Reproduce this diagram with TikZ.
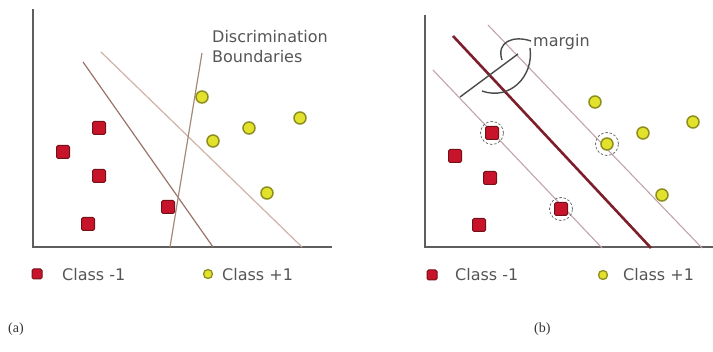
\documentclass[tikz,border=0pt]{standalone}
\usepackage{fontspec}
\newfontfamily\verd{DejaVu Sans}
\newfontfamily\tms{Liberation Serif}
\definecolor{axisgray}{HTML}{5E5E5E}
\definecolor{sqfill}{HTML}{C8142A}
\definecolor{sqdraw}{HTML}{741018}
\definecolor{cifill}{HTML}{E2E22C}
\definecolor{cidraw}{HTML}{8E8E20}
\definecolor{txtgray}{HTML}{555555}
\definecolor{lineone}{HTML}{9A7468}
\definecolor{linetwo}{HTML}{CFB2A8}
\definecolor{linethree}{HTML}{A48A78}
\definecolor{thinb}{HTML}{C2A4A8}
\definecolor{thickb}{HTML}{7D1E2A}
\definecolor{svgray}{HTML}{707070}
\definecolor{bargray}{HTML}{4A4A4A}
\begin{document}
\begin{tikzpicture}[x=1pt,y=-1pt,
  axis/.style={draw=axisgray,line width=1.6pt},
  sq/.style={rectangle,draw=sqdraw,fill=sqfill,line width=1pt,minimum size=13pt,inner sep=0pt,rounded corners=1.5pt},
  ci/.style={circle,draw=cidraw,fill=cifill,line width=1.5pt,minimum size=12pt,inner sep=0pt},
  lsq/.style={sq,minimum size=10pt},
  lci/.style={ci,minimum size=9pt,line width=1.3pt},
  lbl/.style={font=\verd\fontsize{16}{20}\selectfont,text=txtgray,inner sep=0pt,anchor=base west},
  panelcap/.style={font=\tms\fontsize{14}{16}\selectfont,text=black!80,inner sep=0pt,anchor=base west},
  sv/.style={circle,draw=svgray,dash pattern=on 2.5pt off 1.8pt,line width=0.8pt,minimum size=23pt,inner sep=0pt},
  bnd/.style={line width=1.2pt},
  markline/.style={draw=bargray,line width=1.4pt}]
\useasboundingbox (0,0) rectangle (713,352);
% ---------------- panel (a) ----------------
\coordinate (aY) at (33,9);
\coordinate (aO) at (33,247);
\coordinate (aX) at (332,247);
\draw[axis] (aY) -- (aO) -- (aX);
\coordinate (l1s) at (83,62);   \coordinate (l1e) at (213,247);
\coordinate (l2s) at (101,52);  \coordinate (l2e) at (302,247);
\coordinate (l3s) at (202,53);  \coordinate (l3e) at (170,247);
\draw[bnd,draw=lineone] (l1s) -- (l1e);
\draw[bnd,draw=linetwo] (l2s) -- (l2e);
\draw[bnd,draw=linethree] (l3s) -- (l3e);
\node[sq] (aS1) at (99,128) {};
\node[sq] (aS2) at (63,152) {};
\node[sq] (aS3) at (99,176) {};
\node[sq] (aS4) at (168,207) {};
\node[sq] (aS5) at (88,224) {};
\node[ci] (aC1) at (202,97) {};
\node[ci] (aC2) at (213,141) {};
\node[ci] (aC3) at (249,128) {};
\node[ci] (aC4) at (300,118) {};
\node[ci] (aC5) at (267,193) {};
\node[lbl] (disc1) at (212,43) {Discrimination};
\node[lbl] (disc2) at (212,63) {Boundaries};
\node[lsq] (aLS) at (37,274) {};
\node[lbl] (aLT1) at (62,281) {Class -1};
\node[lci] (aLC) at (208,274) {};
\node[lbl] (aLT2) at (222,281) {Class +1};
\node[panelcap] (capa) at (8,333) {(a)};
% ---------------- panel (b) ----------------
\coordinate (bY) at (425,15);
\coordinate (bO) at (425,247);
\coordinate (bX) at (713,247);
\draw[axis] (bY) -- (bO) -- (bX);
\coordinate (tls) at (433,70);  \coordinate (tle) at (602,248);
\coordinate (trs) at (488,25);  \coordinate (tre) at (702,248);
\coordinate (tks) at (453,36);  \coordinate (tke) at (651,248);
\draw[line width=1.1pt,draw=thinb] (tls) -- (tle);
\draw[line width=1.1pt,draw=thinb] (trs) -- (tre);
\draw[line width=2.6pt,draw=thickb] (tks) -- (tke);
% margin marker
\coordinate (m1) at (460,97);
\coordinate (m2) at (518,54);
\draw[markline] (m1) -- (m2);
\coordinate (h1) at (531,41);
\coordinate (h2) at (502,60);
\draw[markline] (h1) .. controls (513,35) and (496,42) .. (h2);
\coordinate (h3) at (530,48);
\coordinate (h4) at (482,91);
\draw[markline] (h3) .. controls (534,76) and (510,101) .. (h4);
\node[lbl] (marg) at (533,47) {margin};
% points
\node[sq] (bS1) at (492,133) {};
\node[sq] (bS2) at (455,156) {};
\node[sq] (bS3) at (490,178) {};
\node[sq] (bS4) at (561,209) {};
\node[sq] (bS5) at (479,225) {};
\node[ci] (bC1) at (595,102) {};
\node[ci] (bC2) at (643,133) {};
\node[ci] (bC3) at (693,122) {};
\node[ci] (bC4) at (607,144) {};
\node[ci] (bC5) at (662,195) {};
\node[sv] (sv1) at (bS1) {};
\node[sv] (sv2) at (bS4) {};
\node[sv] (sv3) at (bC4) {};
\node[lsq] (bLS) at (432,275) {};
\node[lbl] (bLT1) at (455,281) {Class -1};
\node[lci] (bLC) at (603,275) {};
\node[lbl] (bLT2) at (623,281) {Class +1};
\node[panelcap] (capb) at (534,333) {(b)};
\end{tikzpicture}
\end{document}
